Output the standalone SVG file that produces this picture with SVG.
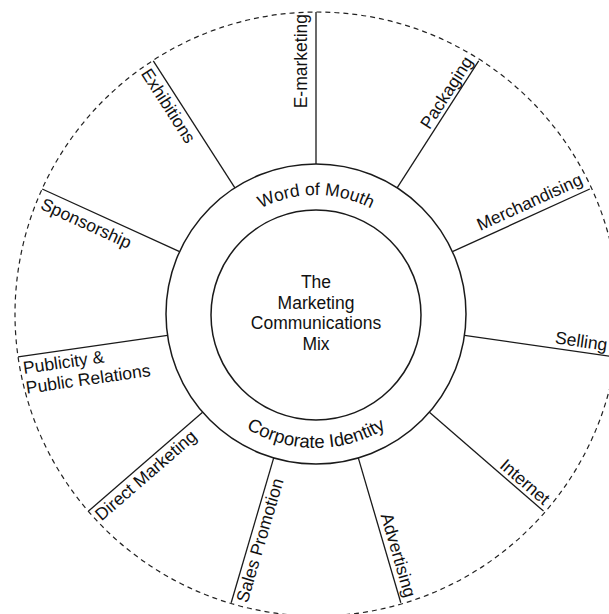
<svg xmlns="http://www.w3.org/2000/svg" width="609" height="614" viewBox="0 0 609 614">
<style>
.lbl{font-family:"Liberation Sans",Arial,sans-serif;font-size:17.5px;fill:#111}
.ctr{font-family:"Liberation Sans",Arial,sans-serif;font-size:17.5px;fill:#111;text-anchor:middle}
.spoke{stroke:#1a1a1a;stroke-width:1.3;fill:none}
.circ{stroke:#1a1a1a;stroke-width:1.5;fill:none}
</style>
<defs>
<path id="arcTop" d="M197,314 A119,119 0 0 1 435,314"/>
<path id="arcBot" d="M182,314 A134,134 0 0 0 450,314"/>
</defs>
<rect width="609" height="614" fill="#fff"/>
<g id="outer-boundary">
<circle cx="317" cy="314" r="302" fill="none" stroke="#222" stroke-width="1.2" stroke-dasharray="5 4"/>
</g>
<g id="connectors">
<line class="spoke" x1="316" y1="164" x2="316" y2="12" stroke-width="2.2"/>
<line class="spoke" x1="397.1" y1="187.8" x2="478.7" y2="60.8"/>
<line class="spoke" x1="452.4" y1="251.7" x2="589.8" y2="189"/>
<line class="spoke" x1="464.5" y1="335.3" x2="613.9" y2="356.8"/>
<line class="spoke" x1="429.4" y1="412.2" x2="543.5" y2="511.1"/>
<line class="spoke" x1="358.3" y1="457.9" x2="400.8" y2="602.8"/>
<line class="spoke" x1="273.7" y1="457.9" x2="231.2" y2="602.8"/>
<line class="spoke" x1="202.6" y1="412.2" x2="88.5" y2="511.1"/>
<line class="spoke" x1="167.5" y1="335.3" x2="18.1" y2="356.8"/>
<line class="spoke" x1="179.6" y1="251.7" x2="42.2" y2="189"/>
<line class="spoke" x1="234.9" y1="187.8" x2="153.3" y2="60.8"/>
</g>
<g id="ring">
<circle class="circ" cx="316" cy="314" r="150"/>
<text class="ctr"><textPath href="#arcTop" startOffset="50%">Word of Mouth</textPath></text>
<text class="ctr" style="font-size:18.5px"><textPath href="#arcBot" startOffset="50%">Corporate Identity</textPath></text>
</g>
<g id="center">
<circle class="circ" cx="316" cy="315" r="105"/>
<text class="ctr" x="316" y="288">The</text>
<text class="ctr" x="316" y="308.5">Marketing</text>
<text class="ctr" x="316" y="329">Communications</text>
<text class="ctr" x="316" y="349.5">Mix</text>
</g>
<g id="e-marketing"><text class="lbl" text-anchor="end" transform="translate(307,14) rotate(-90)">E-marketing</text></g>
<g id="packaging"><text class="lbl" text-anchor="end" transform="translate(473.6,61.4) rotate(-57.27)">Packaging</text></g>
<g id="merchandising"><text class="lbl" text-anchor="end" transform="translate(583.8,183.8) rotate(-24.55)">Merchandising</text></g>
<g id="selling"><text class="lbl" text-anchor="end" transform="translate(606.5,350.8) rotate(8.18)">Selling</text></g>
<g id="internet"><text class="lbl" text-anchor="end" transform="translate(543.5,505.8) rotate(40.91)">Internet</text></g>
<g id="advertising"><text class="lbl" text-anchor="end" transform="translate(404.8,598.4) rotate(73.64)">Advertising</text></g>
<g id="sales-promotion"><text class="lbl" transform="translate(247.5,603.5) rotate(-73.64)">Sales Promotion</text></g>
<g id="direct-marketing"><text class="lbl" transform="translate(101.5,521.5) rotate(-40.91)">Direct Marketing</text></g>
<g id="publicity"><text class="lbl" transform="translate(24,374) rotate(-8.18)"><tspan x="0" y="0">Publicity &amp;</tspan><tspan x="0" y="20">Public Relations</tspan></text></g>
<g id="sponsorship"><text class="lbl" transform="translate(39.5,208.5) rotate(24.55)">Sponsorship</text></g>
<g id="exhibitions"><text class="lbl" transform="translate(140.5,73.5) rotate(57.27)">Exhibitions</text></g>
</svg>
